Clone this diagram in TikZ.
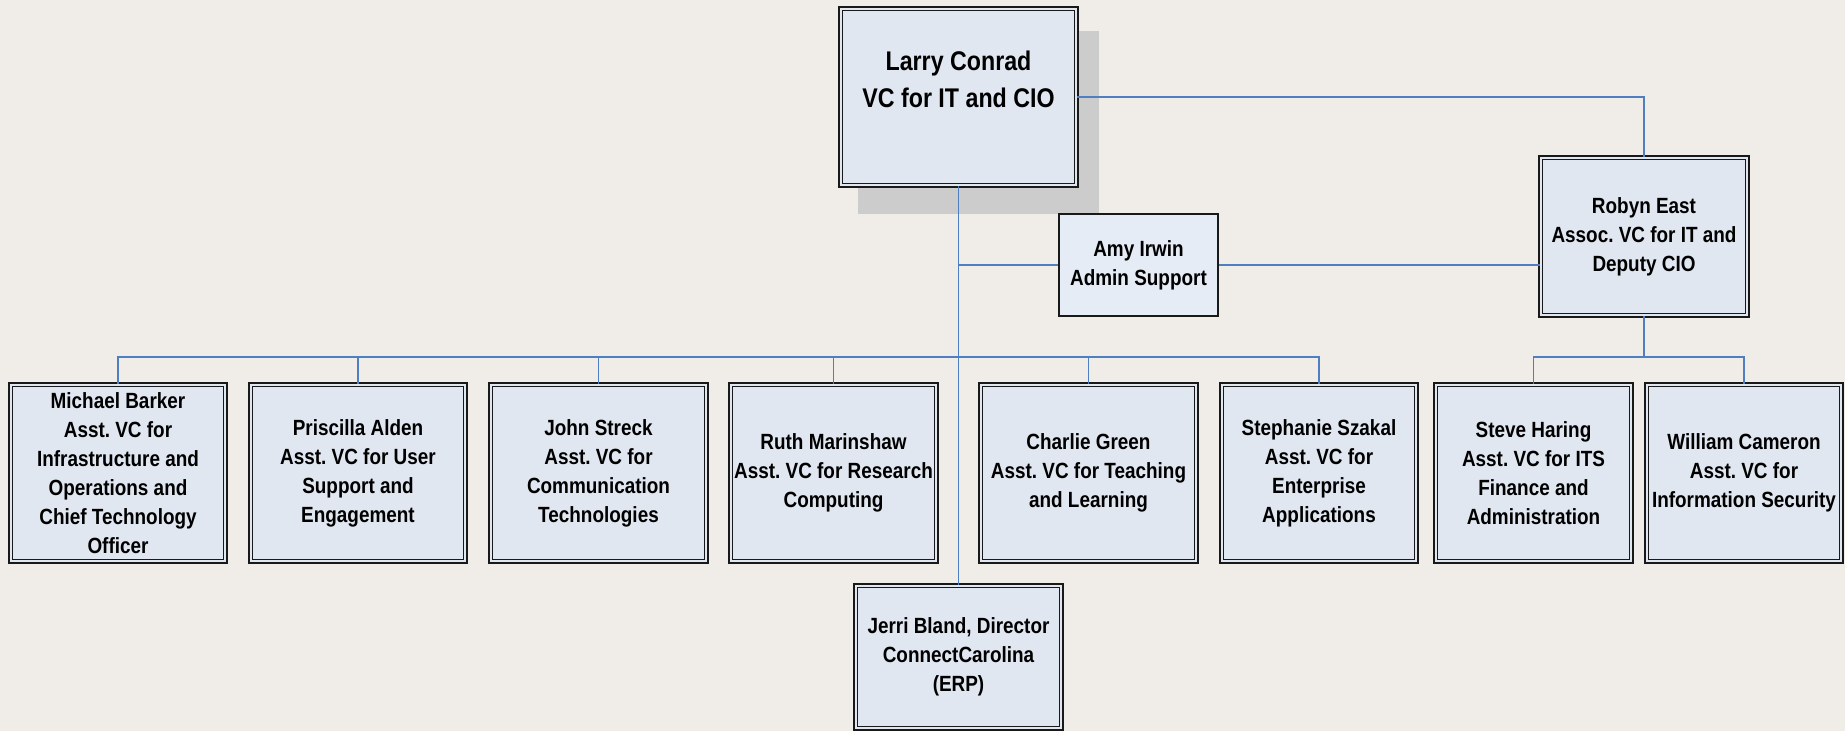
\documentclass[tikz,border=0pt]{standalone}
\usepackage{fontspec}
\newfontfamily\orgfont{Liberation Sans}[FakeStretch=0.86]
\usetikzlibrary{calc}
\frenchspacing
\definecolor{bgc}{HTML}{F0EDE8}
\definecolor{boxfill}{HTML}{E1E7F1}
\definecolor{amyfill}{HTML}{E6ECF6}
\definecolor{linec}{HTML}{4F7FC0}
\definecolor{shadowc}{HTML}{CCCCCC}
\tikzset{
  dbox/.style={rectangle, draw=black!90, line width=1.7pt, double=boxfill,
    double distance=2.0pt, fill=boxfill, inner sep=0pt, align=center,
    font=\orgfont\bfseries\fontsize{22}{29}\selectfont\frenchspacing},
  sbox/.style={rectangle, draw=black!90, line width=1.7pt, fill=amyfill,
    inner sep=0pt, align=center,
    font=\orgfont\bfseries\fontsize{22}{29}\selectfont\frenchspacing},
  bigtext/.style={align=center, inner sep=0pt,
    font=\orgfont\bfseries\fontsize{27}{37}\selectfont},
  conn/.style={draw=linec, line width=1.6pt}
}
\begin{document}
\begin{tikzpicture}[x=1pt,y=-1pt]
\fill[bgc] (0,0) rectangle (1845,731);
\clip (0,0) rectangle (1845,731);
% shadow of top box
\fill[shadowc] (858,31) rectangle (1099,214);
% boxes
\node[dbox, minimum width=235.6pt, minimum height=176.6pt] (larry) at (958.5,97) {};
\node[bigtext] (larrytext) at (958.5,79) {Larry Conrad\\VC for IT and CIO};
\node[sbox, minimum width=159.3pt, minimum height=102.3pt] (amy) at (1138.5,265) {Amy Irwin\\Admin Support};
\node[dbox, minimum width=206.6pt, minimum height=157.6pt] (robyn) at (1644,236.5) {Robyn East\\Assoc. VC for IT and\\Deputy CIO};
\node[dbox, minimum width=214.6pt, minimum height=176.6pt] (michael) at (118,473) {Michael Barker\\Asst. VC for\\Infrastructure and\\Operations and\\Chief Technology\\Officer};
\node[dbox, minimum width=214.6pt, minimum height=176.6pt] (priscilla) at (358,473) {Priscilla Alden\\Asst. VC for User\\Support and\\Engagement};
\node[dbox, minimum width=215.6pt, minimum height=176.6pt] (john) at (598.5,473) {John Streck\\Asst. VC for\\Communication\\Technologies};
\node[dbox, minimum width=205.6pt, minimum height=176.6pt] (ruth) at (833.5,473) {Ruth Marinshaw\\Asst. VC for Research\\Computing};
\node[dbox, minimum width=215.6pt, minimum height=176.6pt] (charlie) at (1088.5,473) {Charlie Green\\Asst. VC for Teaching\\and Learning};
\node[dbox, minimum width=194.6pt, minimum height=176.6pt] (stephanie) at (1319,473) {Stephanie Szakal\\Asst. VC for\\Enterprise\\Applications};
\node[dbox, minimum width=195.6pt, minimum height=176.6pt] (steve) at (1533.5,473) {Steve Haring\\Asst. VC for ITS\\Finance and\\Administration};
\node[dbox, minimum width=194.6pt, minimum height=176.6pt] (william) at (1744,473) {William Cameron\\Asst. VC for\\Information Security};
\node[dbox, minimum width=205.6pt, minimum height=142.6pt] (jerri) at (958.5,657) {Jerri Bland, Director\\ConnectCarolina\\(ERP)};
% connectors
\coordinate (bus) at (958.5,357);
\coordinate (rbus) at (1644,357);
\draw[conn] (larry.south) -- (jerri.north);
\draw[conn] (bus) -| (michael.north);
\draw[conn] (bus) -| (priscilla.north);
\draw[conn] (bus) -| (john.north);
\draw[conn] (bus) -| (ruth.north);
\draw[conn] (bus) -| (charlie.north);
\draw[conn] (bus) -| (stephanie.north);
\draw[conn] (larry.south |- amy.west) -- (amy.west);
\draw[conn] (amy.east) -- (amy.east -| robyn.west);
\draw[conn] (larry.east) -| (robyn.north);
\draw[conn] (robyn.south) -- (rbus);
\draw[conn] (rbus) -| (steve.north);
\draw[conn] (rbus) -| (william.north);
\end{tikzpicture}
\end{document}
